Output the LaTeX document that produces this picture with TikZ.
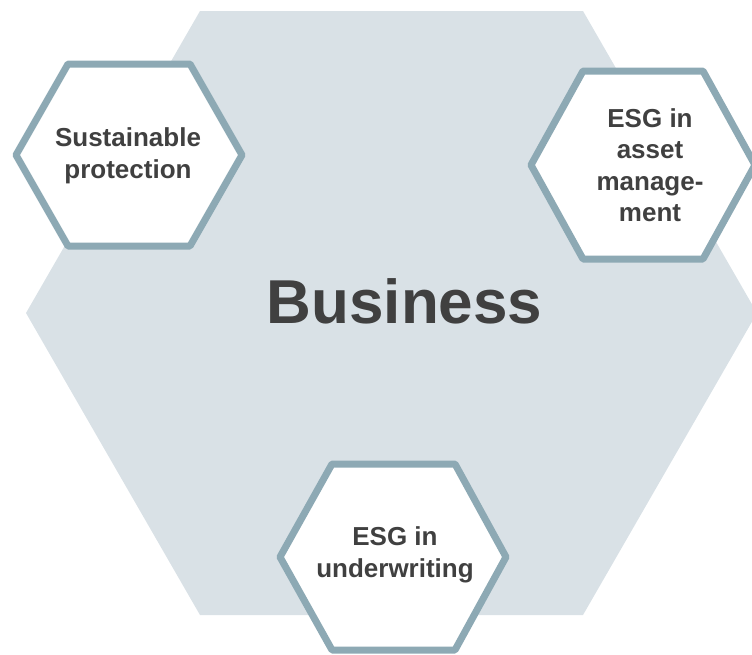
\documentclass[tikz,border=0pt]{standalone}
\usepackage{fontspec}
\setmainfont{Liberation Sans}
\definecolor{bgblue}{HTML}{D9E1E6}
\definecolor{hexline}{HTML}{8DA9B4}
\definecolor{txtgray}{HTML}{404040}
\tikzset{
  bighex/.style={fill=bgblue, draw=none},
  smallhex/.style={draw=hexline, fill=white, line width=7pt, line join=round},
  hextext/.style={align=center, text=txtgray, font=\bfseries\fontsize{26}{31.5}\selectfont, inner sep=0pt},
  maintext/.style={text=txtgray, font=\bfseries\fontsize{62}{70}\selectfont, inner sep=0pt}
}
\begin{document}
\begin{tikzpicture}[x=1pt, y=-1pt]
\useasboundingbox (0,0) rectangle (752,654);

% big hexagon
\fill[bighex] (200,11) -- (583,11) -- (757,313) -- (583,615) -- (200,615) -- (26,313) -- cycle;
\node[maintext, anchor=base] (business) at (404.5,323) {Business};

% small hexagons
\draw[smallhex] (16,155) -- (68,64) -- (190,64) -- (242,155) -- (190,246) -- (68,246) -- cycle;
\draw[smallhex] (531,165) -- (583,71) -- (703,71) -- (755,165) -- (703,259) -- (583,259) -- cycle;
\draw[smallhex] (280,557) -- (332,464) -- (455,464) -- (506,557) -- (455,650) -- (332,650) -- cycle;

\node[hextext] (protection) at (128,156) {Sustainable\\protection};
\node[hextext] (asset)      at (650,165) {ESG in\\asset\\manage-\\ment};
\node[hextext] (underwrite) at (395,555) {ESG in\\underwriting};
\end{tikzpicture}
\end{document}
